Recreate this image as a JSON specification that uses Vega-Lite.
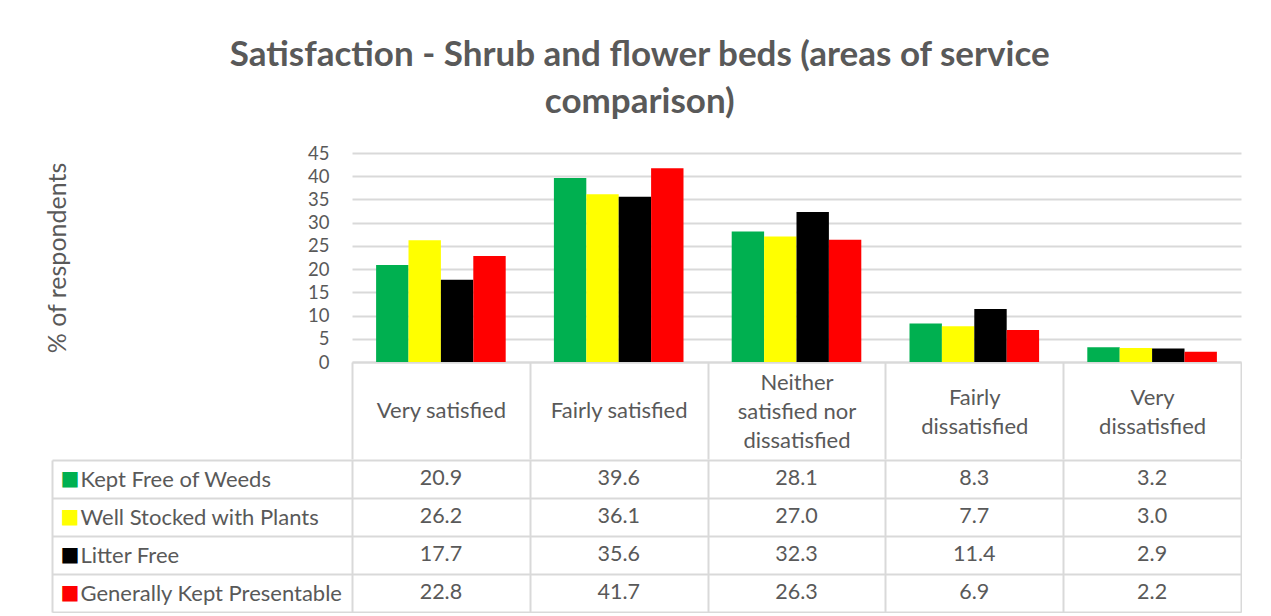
{
  "$schema": "https://vega.github.io/schema/vega-lite/v6.json",
  "background": "white",
  "autosize": {"type": "pad"},
  "padding": {"left": 45, "top": 38, "right": 0, "bottom": 0},
  "title": {
    "text": ["Satisfaction - Shrub and flower beds (areas of service", "comparison)"],
    "font": "Lato",
    "fontSize": 35,
    "fontWeight": "bold",
    "color": "#595959",
    "anchor": "middle",
    "lineHeight": 47,
    "offset": 24,
    "dx": -4
  },
  "config": {
    "font": "Lato",
    "view": {"stroke": null},
    "axis": {"labelColor": "#595959", "titleColor": "#595959", "labelFont": "Lato", "titleFont": "Lato"}
  },
  "datasets": {
    "d": [
      {"category": "Very satisfied", "series": "Kept Free of Weeds", "value": 20.9},
      {"category": "Fairly satisfied", "series": "Kept Free of Weeds", "value": 39.6},
      {"category": "Neither satisfied nor dissatisfied", "series": "Kept Free of Weeds", "value": 28.1},
      {"category": "Fairly dissatisfied", "series": "Kept Free of Weeds", "value": 8.3},
      {"category": "Very dissatisfied", "series": "Kept Free of Weeds", "value": 3.2},
      {"category": "Very satisfied", "series": "Well Stocked with Plants", "value": 26.2},
      {"category": "Fairly satisfied", "series": "Well Stocked with Plants", "value": 36.1},
      {"category": "Neither satisfied nor dissatisfied", "series": "Well Stocked with Plants", "value": 27.0},
      {"category": "Fairly dissatisfied", "series": "Well Stocked with Plants", "value": 7.7},
      {"category": "Very dissatisfied", "series": "Well Stocked with Plants", "value": 3.0},
      {"category": "Very satisfied", "series": "Litter Free", "value": 17.7},
      {"category": "Fairly satisfied", "series": "Litter Free", "value": 35.6},
      {"category": "Neither satisfied nor dissatisfied", "series": "Litter Free", "value": 32.3},
      {"category": "Fairly dissatisfied", "series": "Litter Free", "value": 11.4},
      {"category": "Very dissatisfied", "series": "Litter Free", "value": 2.9},
      {"category": "Very satisfied", "series": "Generally Kept Presentable", "value": 22.8},
      {"category": "Fairly satisfied", "series": "Generally Kept Presentable", "value": 41.7},
      {"category": "Neither satisfied nor dissatisfied", "series": "Generally Kept Presentable", "value": 26.3},
      {"category": "Fairly dissatisfied", "series": "Generally Kept Presentable", "value": 6.9},
      {"category": "Very dissatisfied", "series": "Generally Kept Presentable", "value": 2.2}
    ]
  },
  "spacing": -13,
  "vconcat": [
    {
      "width": 889,
      "height": 209,
      "data": {"name": "d"},
      "mark": {"type": "bar"},
      "encoding": {
        "x": {
          "field": "category",
          "type": "nominal",
          "sort": ["Very satisfied", "Fairly satisfied", "Neither satisfied nor dissatisfied", "Fairly dissatisfied", "Very dissatisfied"],
          "scale": {"paddingInner": 0, "paddingOuter": 0},
          "axis": {
            "title": null,
            "orient": "bottom",
            "domainColor": "#d9d9d9",
            "domainWidth": 2,
            "ticks": true,
            "tickBand": "extent",
            "tickSize": 97,
            "tickColor": "#d9d9d9",
            "tickWidth": 2,
            "labelAngle": 0,
            "labelFontSize": 22,
            "labelBaseline": "middle",
            "labelPadding": {
              "condition": [
                {"test": "datum.value == 'Neither satisfied nor dissatisfied'", "value": -77},
                {"test": "datum.value == 'Fairly dissatisfied' || datum.value == 'Very dissatisfied'", "value": -62}
              ],
              "value": -49
            },
            "labelLineHeight": 29,
            "labelLimit": 0,
            "labelOverlap": false,
            "labelExpr": "datum.value == 'Neither satisfied nor dissatisfied' ? ['Neither', 'satisfied nor', 'dissatisfied'] : datum.value == 'Fairly dissatisfied' ? ['Fairly', 'dissatisfied'] : datum.value == 'Very dissatisfied' ? ['Very', 'dissatisfied'] : datum.value"
          }
        },
        "xOffset": {
          "field": "series",
          "type": "nominal",
          "sort": ["Kept Free of Weeds", "Well Stocked with Plants", "Litter Free", "Generally Kept Presentable"],
          "scale": {"paddingInner": 0, "paddingOuter": 0.744}
        },
        "y": {
          "field": "value",
          "type": "quantitative",
          "scale": {"domain": [0, 45], "nice": false},
          "axis": {
            "title": "% of respondents",
            "values": [0, 5, 10, 15, 20, 25, 30, 35, 40, 45],
            "domain": false,
            "ticks": false,
            "grid": true,
            "gridColor": "#d9d9d9",
            "gridWidth": 2,
            "labelFontSize": 18.5,
            "labelPadding": 23,
            "titleFontSize": 25,
            "titleFontWeight": "normal",
            "titlePadding": 237
          }
        },
        "color": {
          "field": "series",
          "type": "nominal",
          "scale": {
            "domain": ["Kept Free of Weeds", "Well Stocked with Plants", "Litter Free", "Generally Kept Presentable"],
            "range": ["#00B050", "#FFFF00", "#000000", "#FF0000"]
          },
          "legend": null
        }
      }
    },
    {
      "width": 889,
      "height": 152,
      "data": {"name": "d"},
      "layer": [
        {
          "mark": {"type": "text", "font": "Lato", "fontSize": 21.5, "color": "#595959"},
          "encoding": {
            "x": {
              "field": "category",
              "type": "nominal",
              "sort": ["Very satisfied", "Fairly satisfied", "Neither satisfied nor dissatisfied", "Fairly dissatisfied", "Very dissatisfied"],
              "scale": {"paddingInner": 0, "paddingOuter": 0},
              "axis": {
                "title": null,
                "orient": "bottom",
                "labels": false,
                "ticks": false,
                "domain": false,
                "grid": true,
                "tickBand": "extent",
                "gridColor": "#d9d9d9",
                "gridWidth": 2
              }
            },
            "y": {
              "field": "series",
              "type": "nominal",
              "sort": ["Kept Free of Weeds", "Well Stocked with Plants", "Litter Free", "Generally Kept Presentable"],
              "scale": {"paddingInner": 0, "paddingOuter": 0},
              "axis": {
                "title": null,
                "orient": "left",
                "offset": 300,
                "domain": true,
                "domainColor": "#d9d9d9",
                "domainWidth": 2,
                "ticks": true,
                "tickBand": "extent",
                "tickSize": -1189,
                "tickColor": "#d9d9d9",
                "tickWidth": 2,
                "grid": false,
                "labelAlign": "left",
                "labelPadding": 1161,
                "labelFontSize": 22,
                "labelLimit": 0
              }
            },
            "text": {"field": "value", "type": "quantitative", "format": ".1f"}
          }
        },
        {
          "mark": {"type": "text"},
          "encoding": {
            "y": {
              "field": "series",
              "type": "nominal",
              "sort": ["Kept Free of Weeds", "Well Stocked with Plants", "Litter Free", "Generally Kept Presentable"],
              "axis": {
                "title": null,
                "orient": "left",
                "offset": 300,
                "domain": false,
                "ticks": false,
                "grid": false,
                "labelAlign": "left",
                "labelPadding": -8,
                "labelFont": "DejaVu Sans",
                "labelFontSize": 20,
                "labelExpr": "'■'",
                "labelColor": {
                  "condition": [
                    {"test": "datum.value == 'Kept Free of Weeds'", "value": "#00B050"},
                    {"test": "datum.value == 'Well Stocked with Plants'", "value": "#FFFF00"},
                    {"test": "datum.value == 'Litter Free'", "value": "#000000"}
                  ],
                  "value": "#FF0000"
                }
              }
            },
            "text": {"value": ""}
          }
        }
      ],
      "resolve": {"axis": {"y": "independent"}}
    }
  ]
}
